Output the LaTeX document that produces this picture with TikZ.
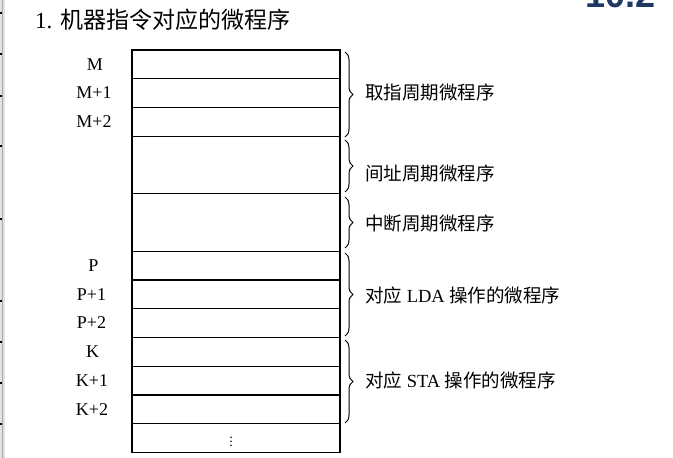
\documentclass[tikz,border=0pt]{standalone}
\usepackage{fontspec}
\setmainfont{Liberation Serif}
\setsansfont{Liberation Sans}
\newfontfamily\cjk{Noto Sans CJK SC}
\usepackage{xcolor}
\usetikzlibrary{decorations.pathreplacing}
\definecolor{slideblue}{RGB}{31,56,100}

\begin{document}
\begin{tikzpicture}[x=1pt,y=-1pt,
		cell/.style={line width=1.2pt},
		addr/.style={inner sep=0pt,font=\fontsize{18}{20}\selectfont},
		part/.style={decorate,decoration={brace,amplitude=8pt},line width=1pt},
		note/.style={anchor=west,inner sep=0pt,font=\fontsize{18.5}{20}\selectfont}]
						\clip (0,0) rectangle (673,458);
						\fill[white] (0,0) rectangle (673,458);
						% edge of the slide
						\fill[gray!22] (0,0) rectangle (5,458);
						\draw[gray!70,line width=0.8pt] (2,0)--(2,458);
						\foreach \t in {13,54,96,146,219,301,342,383,424}
							\fill (0,\t-1) rectangle (1.6,\t+1);
						\node[anchor=base east,inner sep=0pt,text=slideblue,font=\sffamily\bfseries\fontsize{36}{36}\selectfont] (num) at (656,7) {10.2};
						\node[anchor=base west,inner sep=0pt,font=\fontsize{23}{25}\selectfont] (title) at (35,28) {1. {\cjk 机器指令对应的微程序}};
						% control memory
						\draw[cell] (132,50)rectangle(340,78.75);
						\draw[cell] (132,78.75)rectangle(340,107.5);
						\draw[cell] (132,107.5)rectangle(340,136.25);
						\draw[cell] (132,136.25)rectangle(340,193.75);
						\draw[cell] (132,193.75)rectangle(340,251.25);
						\draw[cell] (132,251.25)rectangle(340,280);
						\draw[cell] (132,280)rectangle(340,308.75);
						\draw[cell] (132,308.75)rectangle(340,337.5);
						\draw[cell] (132,337.5)rectangle(340,366.25);
						\draw[cell] (132,366.25)rectangle(340,395);
						\draw[cell] (132,395)rectangle(340,423.75);
						\draw[cell] (132,423.75)rectangle(340,452.5);
						\node[font=\fontsize{14}{14}\selectfont] (more) at (231,439) {$\vdots$};
						% addresses
						\node[addr] (m) at (95,64.4) {M};
						\node[addr] (m1) at (94,93) {M+1};
						\node[addr] (m2) at (94,122) {M+2};
						\node[addr] (p) at (93.5,265.6) {P};
						\node[addr] (p1) at (91.5,294.4) {P+1};
						\node[addr] (p2) at (91.5,323) {P+2};
						\node[addr] (k) at (92.5,352) {K};
						\node[addr] (k1) at (92,380.6) {K+1};
						\node[addr] (k2) at (92,409.4) {K+2};
						% braces
						\draw[part] (345,52)--(345,137);
						\draw[part] (345,140)--(345,192);
						\draw[part] (345,197)--(345,248);
						\draw[part] (345,253)--(345,336);
						\draw[part] (345,340)--(345,423);
						\node[note] (fetch) at (365,92) {\cjk 取指周期微程序};
						\node[note] (indir) at (365,173) {\cjk 间址周期微程序};
						\node[note] (intr) at (365,223) {\cjk 中断周期微程序};
						\node[note] (lda) at (365,295) {{\cjk 对应} LDA {\cjk 操作的微程序}};
						\node[note] (sta) at (365,380) {{\cjk 对应} STA {\cjk 操作的微程序}};
					\end{tikzpicture}
\end{document}
